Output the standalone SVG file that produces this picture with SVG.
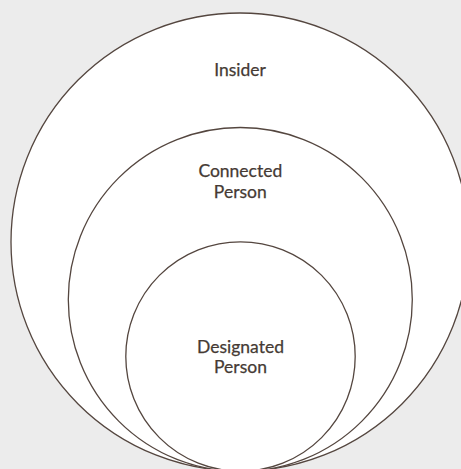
<svg xmlns="http://www.w3.org/2000/svg" width="461" height="469" viewBox="0 0 461 469">
  <style>
    .ring { fill: #ffffff; stroke: #54463f; stroke-width: 1.3; }
    .label { font-family: Lato, "Open Sans", "Liberation Sans", sans-serif; font-size: 17.5px; fill: #453a34; text-anchor: middle; stroke: #453a34; stroke-width: 0.25; }
  </style>
  <rect x="0" y="0" width="461" height="469" fill="#ececec"/>
  <g id="insider">
    <circle class="ring" cx="240" cy="242" r="229"/>
    <text class="label" x="240" y="76">Insider</text>
  </g>
  <g id="connected-person">
    <circle class="ring" cx="240.3" cy="299.5" r="172"/>
    <text class="label" x="240.3" y="177">Connected</text>
    <text class="label" x="240.3" y="197.5">Person</text>
  </g>
  <g id="designated-person">
    <circle class="ring" cx="240.5" cy="356.5" r="114.7"/>
    <text class="label" x="240.5" y="352.5">Designated</text>
    <text class="label" x="240.5" y="373.3">Person</text>
  </g>
  <g id="connectors"/>
</svg>
